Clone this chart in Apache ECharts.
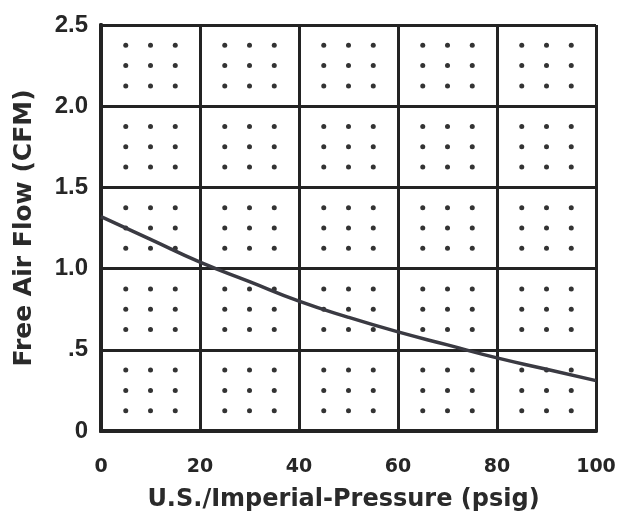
<!DOCTYPE html>
<html>
<head>
<meta charset="utf-8">
<style>html,body{margin:0;padding:0;background:#fff;}#c{width:632px;height:525px;}</style>
<script src="https://cdn.jsdelivr.net/npm/echarts@6/dist/echarts.min.js"></script>
</head>
<body>
<div id="c"></div>
<script>
var pressure = [0, 10, 20, 30, 40, 50, 60, 70, 80, 90, 100];
var flow = [1.32, 1.18, 1.04, 0.92, 0.80, 0.70, 0.61, 0.53, 0.45, 0.38, 0.31];
var xTickLabels = ['0', '20', '40', '60', '80', '100'];
var yTickLabels = ['0', '.5', '1.0', '1.5', '2.0', '2.5'];
var dotXOffsets = [5, 10, 15];
var dotYOffsets = [0.125, 0.25, 0.375];

var dots = [];
for (var cx = 0; cx < 100; cx += 20) {
  for (var cy = 0; cy < 2.5; cy += 0.5) {
    dotXOffsets.forEach(function (dx) {
      dotYOffsets.forEach(function (dy) {
        dots.push([cx + dx, cy + dy]);
      });
    });
  }
}

var font = 'DejaVu Sans';
var lineCol = '#232323';
var chart = echarts.init(document.getElementById('c'));
chart.setOption({
  animation: false,
  backgroundColor: '#fff',
  grid: { left: 101, right: 36, top: 25, bottom: 94, show: false },
  xAxis: [{
    type: 'value', min: 0, max: 100, interval: 20,
    name: 'U.S./Imperial-Pressure (psig)', nameLocation: 'middle', nameGap: 57,
    nameTextStyle: { fontFamily: font, fontSize: 24, fontWeight: 'bold', color: '#2a2a2a', padding: [0, 10, 0, 0] },
    axisLine: { show: true, lineStyle: { color: lineCol, width: 4 } },
    axisTick: { show: false },
    splitLine: { show: true, lineStyle: { color: lineCol, width: 3 } },
    axisLabel: {
      fontFamily: font, fontSize: 19, fontWeight: 'bold', color: '#262626', margin: 27,
      formatter: function (v) { return xTickLabels[Math.round(v / 20)]; }
    }
  }, {
    type: 'value', min: 0, max: 100, position: 'top',
    axisLine: { show: true, lineStyle: { color: lineCol, width: 4 } },
    axisTick: { show: false }, axisLabel: { show: false }, splitLine: { show: false }
  }],
  yAxis: [{
    type: 'value', min: 0, max: 2.5, interval: 0.5,
    name: 'Free Air Flow (CFM)', nameLocation: 'middle', nameGap: 64,
    nameTextStyle: { fontFamily: font, fontSize: 25, fontWeight: 'bold', color: '#2a2a2a' },
    axisLine: { show: true, lineStyle: { color: lineCol, width: 4 } },
    axisTick: { show: false },
    splitLine: { show: true, lineStyle: { color: lineCol, width: 3 } },
    axisLabel: {
      fontFamily: 'Liberation Sans', fontSize: 24, fontWeight: 'bold', color: '#262626', margin: 13,
      formatter: function (v) { return yTickLabels[Math.round(v / 0.5)]; }
    }
  }, {
    type: 'value', min: 0, max: 2.5, position: 'right',
    axisLine: { show: true, lineStyle: { color: lineCol, width: 4 } },
    axisTick: { show: false }, axisLabel: { show: false }, splitLine: { show: false }
  }],
  series: [
    {
      type: 'scatter', data: dots, symbol: 'circle', symbolSize: 5,
      itemStyle: { color: '#000' }, silent: true
    },
    {
      type: 'line', data: pressure.map(function (p, i) { return [p, flow[i]]; }),
      smooth: true, showSymbol: false,
      lineStyle: { color: '#3a3a42', width: 3.5 }
    }
  ]
});
</script>
</body>
</html>
